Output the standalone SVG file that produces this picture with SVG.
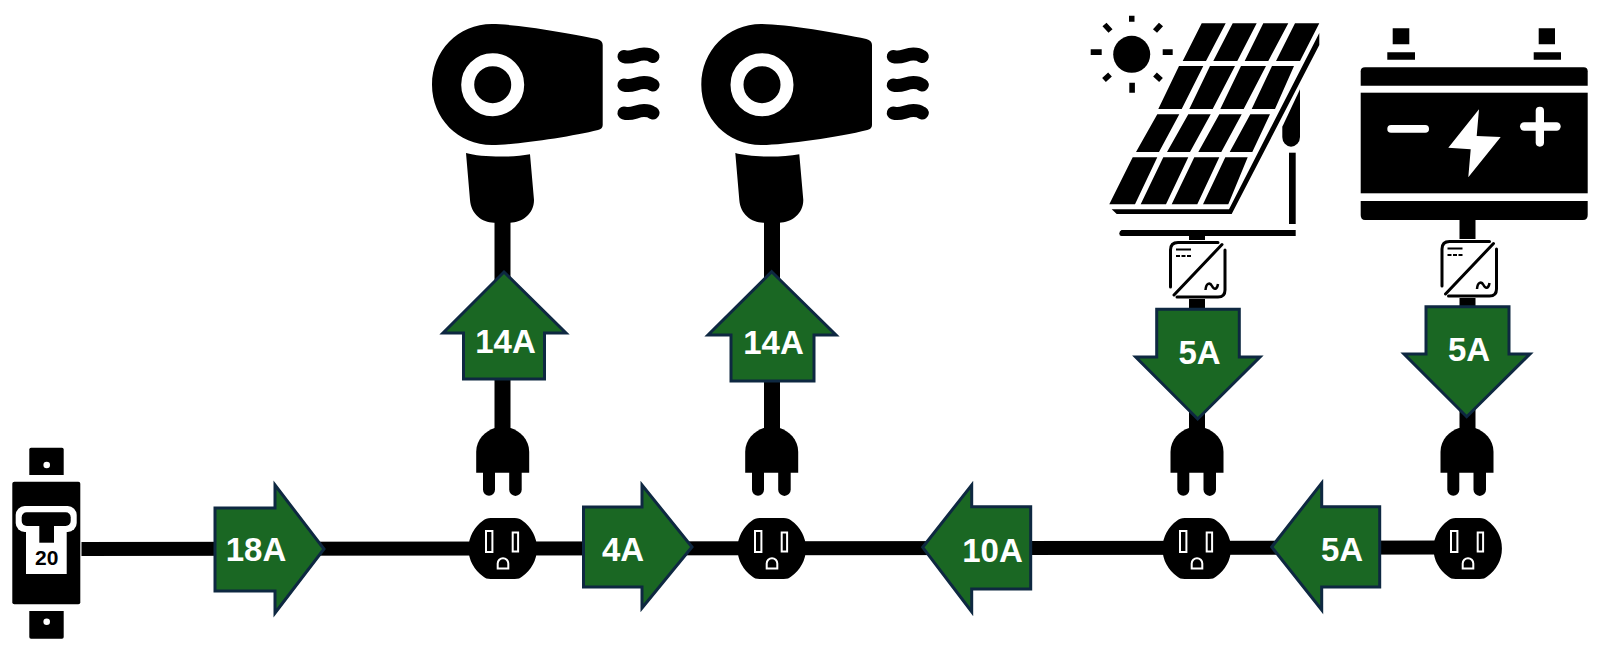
<svg xmlns="http://www.w3.org/2000/svg" width="1600" height="659" viewBox="0 0 1600 659">
<style>
.bg{fill:#fff}
.k{fill:#000}
.w{fill:#fff}
.wire{stroke:#000;fill:none;stroke-width:14}
.cord{stroke:#000;fill:none;stroke-width:16}
.arrow{fill:#1a6723;stroke:#0e2841;stroke-width:3;stroke-miterlimit:10}
.lbl{font-family:"Liberation Sans",Arial,sans-serif;font-weight:700;font-size:33px;fill:#fff;text-anchor:middle}
.slot{fill:#000;stroke:#fff;stroke-width:2}
.wave{fill:none;stroke:#000;stroke-width:13;stroke-linecap:round}
.inv{fill:none;stroke:#000;stroke-width:3;stroke-linecap:round}
.ray{stroke:#000;stroke-width:5.500;fill:none}
</style>
<defs>
<g id="outlet">
<path class="k" d="M-12-30.500H12Q17-30.500 19.500-28A34 34 0 0 1 19.500 28Q17 30.500 12 30.500H-12Q-17 30.500-19.500 28A34 34 0 0 1-19.500-28Q-17-30.500-12-30.500Z"/>
<rect class="slot" x="-16.700" y="-17.500" width="6.400" height="21"/>
<rect class="slot" x="10" y="-16" width="5.400" height="19"/>
<path class="slot" d="M-5 20V15A5.300 5.300 0 0 1 5.600 15V20Z"/>
</g>
<g id="plug">
<path class="k" d="M-26.500 44.700V24C-26.500 11-17 3-8 0H8C17 3 26.500 11 26.500 24V44.700Z"/>
<path class="k" d="M-19.700 44H-7.700V61.700A6 6 0 0 1-19.700 61.700Z"/>
<path class="k" d="M6.500 44H19V61.700A6.200 6.200 0 0 1 6.500 61.700Z"/>
</g>
<g id="dryer">
<path class="k" d="M492 24C515 24 570 33 597 39Q602.700 40.500 602.700 45V125Q602.700 129 598 130C570 137 515 145 492 145C458 145 432 118 432 84.700C432 51 458 24 492 24Z"/>
<circle class="k" cx="492.700" cy="84.700" r="25" stroke="#fff" stroke-width="13"/>
<path class="k" d="M466 153C480 157 510 158 530 154.300L534 200C534 214 522 222.700 510 222.700H494C482 222.700 471 214 470 200Z"/>
<path class="wave" d="M624 56.500C632 59 636 54 644 54S650 56 653 56.500"/>
<path class="wave" d="M624 85C632 87.500 636 82.500 644 82.500S650 84.500 653 85"/>
<path class="wave" d="M624 113C632 115.500 636 110.500 644 110.500S650 112.500 653 113"/>
</g>
<g id="inverter">
<rect class="w" x="0" y="0" width="59" height="59"/>
<path class="inv" d="M2.500 47V10Q2.500 2.500 10 2.500H50"/>
<path class="inv" d="M54 4.500L6 55"/>
<path class="inv" d="M9 57H50Q57 57 57 50V10"/>
<path d="M8 9.500H23" stroke="#000" stroke-width="2" fill="none"/>
<path d="M8 16H23" stroke="#000" stroke-width="2" stroke-dasharray="4 1.500" fill="none"/>
<path d="M37.500 50C38 43 42 42 44 46S49 50 50 44" stroke="#000" stroke-width="2.500" fill="none"/>
</g>
</defs>
<rect class="bg" x="0" y="0" width="1600" height="659"/>

<g id="connectors">
<path class="wire" d="M81.500 549L1450 547.500"/>
<path class="cord" d="M502.500 218V432"/>
<path class="cord" d="M772 218V432"/>
<path class="cord" d="M1197 234V432"/>
<path class="cord" d="M1467.500 218V432"/>
</g>

<g id="breaker">
<path class="k" d="M31 447.700H62Q63.700 447.700 63.700 449.500V475H29.300V449.500Q29.300 447.700 31 447.700Z"/>
<circle class="w" cx="46.700" cy="465" r="3.300"/>
<path class="k" d="M29.300 611H63.700V637Q63.700 638.700 62 638.700H31Q29.300 638.700 29.300 637Z"/>
<circle class="w" cx="46.700" cy="621.700" r="3.300"/>
<rect class="k" x="12.300" y="481.700" width="68" height="122.600" rx="2"/>
<rect class="w" x="15.700" y="506" width="61" height="26" rx="9"/>
<rect class="w" x="26" y="528" width="40.700" height="46"/>
<rect class="k" x="21.700" y="512.300" width="49" height="13.700" rx="5"/>
<rect class="k" x="39.300" y="524" width="14.700" height="18.700"/>
<text x="46.700" y="565" font-family="Liberation Sans, Arial, sans-serif" font-weight="700" font-size="21" fill="#000" text-anchor="middle">20</text>
</g>

<g id="outlet-1"><use href="#outlet" x="502.700" y="548.500"/></g>
<g id="outlet-2"><use href="#outlet" x="771.700" y="548.500"/></g>
<g id="outlet-3"><use href="#outlet" x="1196.700" y="548.500"/></g>
<g id="outlet-4"><use href="#outlet" x="1467.700" y="548.500"/></g>

<g id="plug-1"><use href="#plug" x="502.700" y="428"/></g>
<g id="plug-2"><use href="#plug" x="771.700" y="428"/></g>
<g id="plug-3"><use href="#plug" x="1197" y="428"/></g>
<g id="plug-4"><use href="#plug" x="1467" y="428"/></g>

<g id="dryer-1"><use href="#dryer"/></g>
<g id="dryer-2"><use href="#dryer" x="269.300"/></g>

<g id="solar">
<circle class="k" cx="1131.700" cy="54.300" r="18.500"/>
<path class="k" d="M1129 15.700h5.500v6h-5.500zM1129.300 82.700h5.600v10h-5.600zM1090.700 49.300h11v5.700h-11zM1162.700 49.300h10v5.700h-10z"/>
<path class="ray" d="M1104.500 24.500L1110.500 31M1161 24.500L1155 31M1104 80L1110 74.500M1155 74.500L1161 80"/>
<path class="k" d="M1201.700 23.300H1225.700L1206 61H1182.700ZM1232.700 23.300H1256.700L1237.300 61H1213.300ZM1263.300 23.300H1288.300L1268.300 61H1244.700ZM1295 23.300H1319.300L1300 61H1276Z"/>
<path class="k" d="M1179 66H1203.300L1181.700 109H1158.300ZM1210 66H1235L1212.700 109H1189.300ZM1241 66H1266L1243.700 109H1220.300ZM1272 66H1294L1275 109H1251.700Z"/>
<path class="k" d="M1157.300 114.300H1179.300L1159 152H1136ZM1188.300 114.300H1210.700L1190 152H1167ZM1219.300 114.300H1241.700L1221.300 152H1198.300ZM1250.300 114.300H1270L1252.300 152H1229.700Z"/>
<path class="k" d="M1132.700 157.300H1157.300L1135 204.300H1109.300ZM1163.300 157.300H1188.300L1166 204.300H1140.700ZM1194.300 157.300H1219.300L1197.300 204.300H1171.700ZM1225.300 157.300H1247.700L1228.300 204.300H1203Z"/>
<path class="k" d="M1111.700 209.300H1229L1319.300 33V45L1231.700 214H1116.700Z"/>
<path class="k" d="M1300 89.300V137A9 9.700 0 0 1 1291 146.700A8.700 9.700 0 0 1 1282.300 137V126.700Z"/>
<rect class="k" x="1289" y="152.700" width="6.700" height="71.300"/>
<path class="k" d="M1121.500 230H1295.700V236H1121.500Q1119.300 236 1119.300 233.500T1121.500 230Z"/>
</g>
<g id="inverter-1"><use href="#inverter" x="1168" y="240"/></g>

<g id="battery">
<path class="k" d="M1392.700 28.300h16.600v16h-16.600zM1387.300 52.300h27.700v7.400h-27.700zM1538.700 28.300h16.300v16h-16.300zM1533.700 52.300h27.300v7.400h-27.300z"/>
<path class="k" d="M1365 67.300H1583.700Q1587.700 67.300 1587.700 71.300V85.700H1360.700V71.300Q1360.700 67.300 1365 67.300Z"/>
<rect class="k" x="1360.700" y="92.700" width="227" height="100.600"/>
<path class="k" d="M1360.700 201H1587.700V215Q1587.700 220 1583 220H1365Q1360.700 220 1360.700 215Z"/>
<rect class="w" x="1387.300" y="125" width="41.700" height="7.700" rx="3.800"/>
<rect class="w" x="1520" y="122.300" width="40.700" height="8.400" rx="4.200"/>
<rect class="w" x="1535.700" y="106.700" width="8.300" height="40" rx="4.100"/>
<path class="w" d="M1479 109.300L1448.300 147.700L1470.700 149.300L1468.300 177.300L1500.700 137L1476.700 136Z"/>
</g>
<g id="inverter-2"><use href="#inverter" x="1439.500" y="239"/></g>

<g id="arrow-18A">
<path class="arrow" d="M215 508H275V485L324 549L275 613V591H215Z"/>
<text class="lbl" x="256" y="561">18A</text>
</g>
<g id="arrow-4A">
<path class="arrow" d="M583.500 507H642V485L692 547L642 608V587H583.500Z"/>
<text class="lbl" x="623" y="561">4A</text>
</g>
<g id="arrow-10A">
<path class="arrow" d="M922.700 547.300L971.700 485V506.700H1030.700V589H971.700V611.700Z"/>
<text class="lbl" x="992.500" y="561.500">10A</text>
</g>
<g id="arrow-5A-h">
<path class="arrow" d="M1271.700 547L1321.700 483V506.700H1379.700V587H1321.700V610Z"/>
<text class="lbl" x="1342" y="560.500">5A</text>
</g>
<g id="arrow-14A-1">
<path class="arrow" d="M504 272L566 333H544.500V379H463.500V333H443Z"/>
<text class="lbl" x="505.500" y="352.700">14A</text>
</g>
<g id="arrow-14A-2">
<path class="arrow" d="M771.700 271.700L836 335H814V381H731V335H708Z"/>
<text class="lbl" x="773.500" y="354">14A</text>
</g>
<g id="arrow-5A-d1">
<path class="arrow" d="M1156.700 309.300H1239.300V357H1260L1197.700 419L1135.700 357H1156.700Z"/>
<text class="lbl" x="1199.500" y="364">5A</text>
</g>
<g id="arrow-5A-d2">
<path class="arrow" d="M1426 306.700H1509V354H1530L1466.700 416.700L1404 354H1426Z"/>
<text class="lbl" x="1469" y="361">5A</text>
</g>
</svg>
